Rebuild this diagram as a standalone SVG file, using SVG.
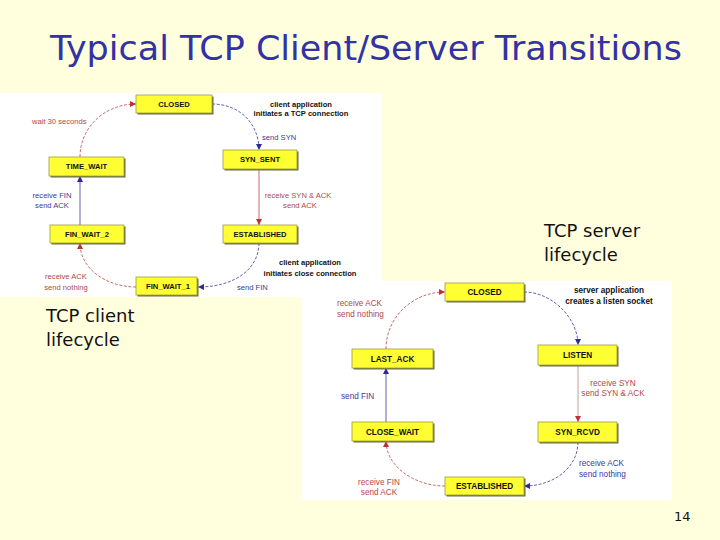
<svg xmlns="http://www.w3.org/2000/svg" width="720" height="540" viewBox="0 0 720 540">
<style>
.bg{fill:#ffffdd}
.panel{fill:#ffffff}
.sh{fill:#6e6e38}
.bx{fill:#ffff33;stroke:#9a9a4a;stroke-width:0.8}
.nl{font-family:"Liberation Sans",Arial,sans-serif;font-size:7.6px;font-weight:bold;fill:#111;text-anchor:middle}
.sl{font-family:"Liberation Sans",Arial,sans-serif;font-size:8.2px;font-weight:bold;fill:#111;text-anchor:middle}
.tx{font-family:"Liberation Sans",Arial,sans-serif;font-size:7.6px}
.txs{font-family:"Liberation Sans",Arial,sans-serif;font-size:8.2px}
.note{font-family:"Liberation Sans",Arial,sans-serif;font-weight:bold;fill:#111;text-anchor:middle}
.b{fill:#3a3a9c}
.r{fill:#b04848}
.lb{fill:none;stroke:#3a3a9c;stroke-width:0.8}
.lr{fill:none;stroke:#b84848;stroke-width:0.8}
.ls{fill:none;stroke:#d09a9a;stroke-width:1}
.d{stroke-dasharray:3 1.6}
.big{font-family:"DejaVu Sans","Liberation Sans",sans-serif;fill:#111}
</style>
<defs>
<marker id="ab" viewBox="0 0 10 10" refX="10" refY="5" markerWidth="6" markerHeight="6" markerUnits="userSpaceOnUse" orient="auto"><path d="M0,0L10,5L0,10z" fill="#2a2a9c"/></marker>
<marker id="ar" viewBox="0 0 10 10" refX="10" refY="5" markerWidth="6" markerHeight="6" markerUnits="userSpaceOnUse" orient="auto"><path d="M0,0L10,5L0,10z" fill="#c03030"/></marker>
</defs>
<rect class="bg" x="0" y="0" width="720" height="540"/>
<text x="50" y="60" font-family="DejaVu Sans, Liberation Sans, sans-serif" font-size="33" fill="#3232a6" textLength="632" lengthAdjust="spacingAndGlyphs">Typical TCP Client/Server Transitions</text>

<rect class="panel" x="0" y="93" width="382" height="204"/>
<rect class="panel" x="302" y="281" width="370" height="219"/>

<g id="connectors">
<path class="lb d" d="M212,104 C240,104 259,124 259,150" marker-end="url(#ab)"/>
<path class="lr" d="M259,170 L259,225" marker-end="url(#ar)"/>
<path class="lb d" d="M259,243 C259,268 236,287 198,287" marker-end="url(#ab)"/>
<path class="lr d" d="M136,287 C108,287 80,270 80,243" marker-end="url(#ar)"/>
<path class="lb" d="M80,225 L80,176" marker-end="url(#ab)"/>
<path class="lr d" d="M80,157 C80,128 104,104 136,104" marker-end="url(#ar)"/>

<path class="lb d" d="M524,292 C552,292 578,318 578,345" marker-end="url(#ab)"/>
<path class="ls" d="M578,365 L578,422" marker-end="url(#ar)"/>
<path class="lb d" d="M578,442 C578,466 556,486 524,486" marker-end="url(#ab)"/>
<path class="lr d" d="M445,486 C414,486 386,466 386,441" marker-end="url(#ar)"/>
<path class="lb" d="M386,422 L386,368" marker-end="url(#ab)"/>
<path class="lr d" d="M386,349 C386,318 412,292 445,292" marker-end="url(#ar)"/>
</g>

<g id="labels">
<text class="tx r" x="32" y="124">wait 30 seconds</text>
<text class="note" font-size="7.6" x="301" y="107">client application</text>
<text class="note" font-size="7.6" x="301" y="116">initiates a TCP connection</text>
<text class="tx b" x="262" y="140">send SYN</text>
<text class="tx r" x="298" y="198" text-anchor="middle">receive SYN &amp; ACK</text>
<text class="tx r" x="300" y="208" text-anchor="middle">send ACK</text>
<text class="note" font-size="7.6" x="310" y="265">client application</text>
<text class="note" font-size="7.6" x="310" y="276">initiates close connection</text>
<text class="tx b" x="237" y="290">send FIN</text>
<text class="tx r" x="66" y="279" text-anchor="middle">receive ACK</text>
<text class="tx r" x="66" y="290" text-anchor="middle">send nothing</text>
<text class="tx b" x="52" y="198" text-anchor="middle">receive FIN</text>
<text class="tx b" x="52" y="208" text-anchor="middle">send ACK</text>

<text class="txs r" x="337" y="306">receive ACK</text>
<text class="txs r" x="337" y="317">send nothing</text>
<text class="note" font-size="8.2" x="609" y="293">server application</text>
<text class="note" font-size="8.2" x="609" y="304">creates a listen socket</text>
<text class="txs r" x="613" y="386" text-anchor="middle">receive SYN</text>
<text class="txs r" x="613" y="396" text-anchor="middle">send SYN &amp; ACK</text>
<text class="txs b" x="579" y="466">receive ACK</text>
<text class="txs b" x="579" y="477">send nothing</text>
<text class="txs r" x="379" y="485" text-anchor="middle">receive FIN</text>
<text class="txs r" x="379" y="495" text-anchor="middle">send ACK</text>
<text class="txs b" x="341" y="399">send FIN</text>
</g>

<g id="c-closed"><rect class="sh" x="137.5" y="96.5" width="76" height="18"/><rect class="bx" x="136" y="95" width="76" height="18"/><text class="nl" x="174" y="106.8">CLOSED</text></g>
<g id="c-syn-sent"><rect class="sh" x="224.5" y="151.5" width="74" height="19"/><rect class="bx" x="223" y="150" width="74" height="19"/><text class="nl" x="260" y="162.3">SYN_SENT</text></g>
<g id="c-established"><rect class="sh" x="224.5" y="226.5" width="74" height="18"/><rect class="bx" x="223" y="225" width="74" height="18"/><text class="nl" x="260" y="236.8">ESTABLISHED</text></g>
<g id="c-fin-wait-1"><rect class="sh" x="137.5" y="278.5" width="61" height="18"/><rect class="bx" x="136" y="277" width="61" height="18"/><text class="nl" x="168" y="288.8">FIN_WAIT_1</text></g>
<g id="c-fin-wait-2"><rect class="sh" x="51.5" y="226.5" width="74" height="18"/><rect class="bx" x="50" y="225" width="74" height="18"/><text class="nl" x="87" y="236.8">FIN_WAIT_2</text></g>
<g id="c-time-wait"><rect class="sh" x="50.5" y="158.5" width="75" height="19"/><rect class="bx" x="49" y="157" width="75" height="19"/><text class="nl" x="86.5" y="169.3">TIME_WAIT</text></g>

<g id="s-closed"><rect class="sh" x="446.5" y="284.5" width="79" height="18"/><rect class="bx" x="445" y="283" width="79" height="18"/><text class="sl" x="484.5" y="295">CLOSED</text></g>
<g id="s-listen"><rect class="sh" x="539.5" y="346.5" width="79" height="20"/><rect class="bx" x="538" y="345" width="79" height="20"/><text class="sl" x="577.5" y="358">LISTEN</text></g>
<g id="s-syn-rcvd"><rect class="sh" x="539.5" y="423.5" width="79" height="20"/><rect class="bx" x="538" y="422" width="79" height="20"/><text class="sl" x="577.5" y="435">SYN_RCVD</text></g>
<g id="s-established"><rect class="sh" x="446.5" y="478.5" width="79" height="18"/><rect class="bx" x="445" y="477" width="79" height="18"/><text class="sl" x="484.5" y="489">ESTABLISHED</text></g>
<g id="s-close-wait"><rect class="sh" x="353.5" y="423.5" width="81" height="19"/><rect class="bx" x="352" y="422" width="81" height="19"/><text class="sl" x="392.5" y="434.5">CLOSE_WAIT</text></g>
<g id="s-last-ack"><rect class="sh" x="353.5" y="350.5" width="81" height="19"/><rect class="bx" x="352" y="349" width="81" height="19"/><text class="sl" x="392.5" y="361.5">LAST_ACK</text></g>

<text class="big" x="544" y="237" font-size="18">TCP server</text>
<text class="big" x="544" y="261" font-size="18">lifecycle</text>
<text class="big" x="46" y="322" font-size="18">TCP client</text>
<text class="big" x="46" y="346" font-size="18">lifecycle</text>
<text class="big" x="674" y="521" font-size="13">14</text>
</svg>
